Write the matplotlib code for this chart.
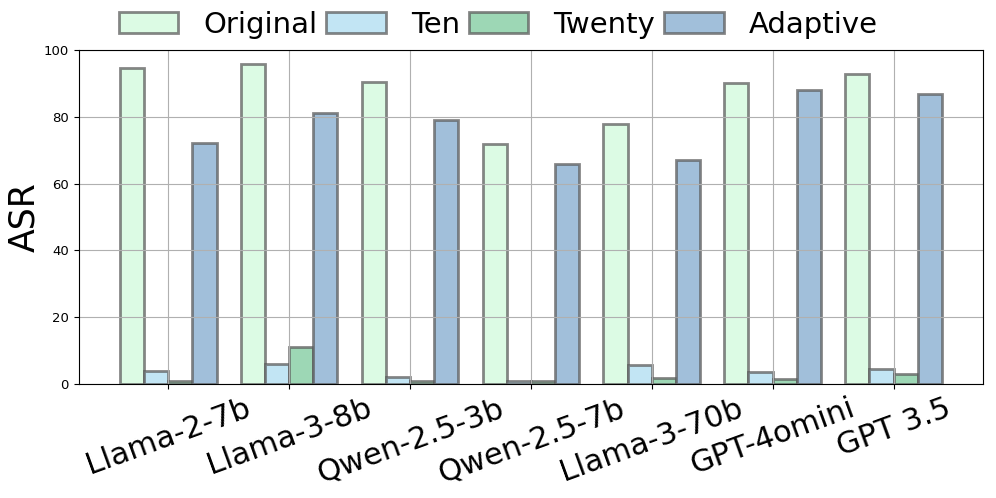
import numpy as np
import matplotlib
matplotlib.use('Agg')
import matplotlib.pyplot as plt

# Data
models = ['Llama-2-7b', 'Llama-3-8b', 'Qwen-2.5-3b', 'Qwen-2.5-7b',
          'Llama-3-70b', 'GPT-4omini', 'GPT 3.5']
original = [94.8, 95.8, 90.4, 71.8, 78.0, 90.1, 93.0]
ten      = [4.0, 6.0, 2.0, 1.0, 5.7, 3.5, 4.5]
twenty   = [1.0, 11.2, 1.0, 1.0, 1.9, 1.4, 3.1]
adaptive = [72.3, 81.1, 79.1, 65.8, 67.0, 88.1, 87.0]

series_names = ['Original', 'Ten', 'Twenty', 'Adaptive']
colors = ['#dcfbe4', '#c2e5f4', '#9dd7b5', '#a1bfda']

fig = plt.figure(figsize=(9.96, 4.98), dpi=100)
ax = fig.add_axes([0.079, 0.229, 0.908, 0.67])

x = np.arange(len(models))
width = 0.2
for i, (name, vals) in enumerate(zip(series_names, [original, ten, twenty, adaptive])):
    ax.bar(x + (i - 1.5) * width, vals, width, label=name, color=colors[i],
           edgecolor=(0.35, 0.35, 0.35, 0.72), linewidth=2)

ax.set_ylim(0, 100)
ax.set_xticks(x)
ax.set_xticklabels(models, rotation=20, fontsize=22)
ax.tick_params(axis='y', labelsize=9.5)
ax.set_ylabel('ASR', fontsize=25, labelpad=2)
ax.grid(True, color='#b0b0b0', linewidth=0.8)

# legend centred on the figure, not on the axes
fig.legend(loc='lower center', bbox_to_anchor=(0.5, 0.899), ncol=4, frameon=False,
           fontsize=21, handlelength=2.05, handletextpad=0.85, columnspacing=0.3,
           borderaxespad=0.0)

plt.savefig('out.png', dpi=100)
